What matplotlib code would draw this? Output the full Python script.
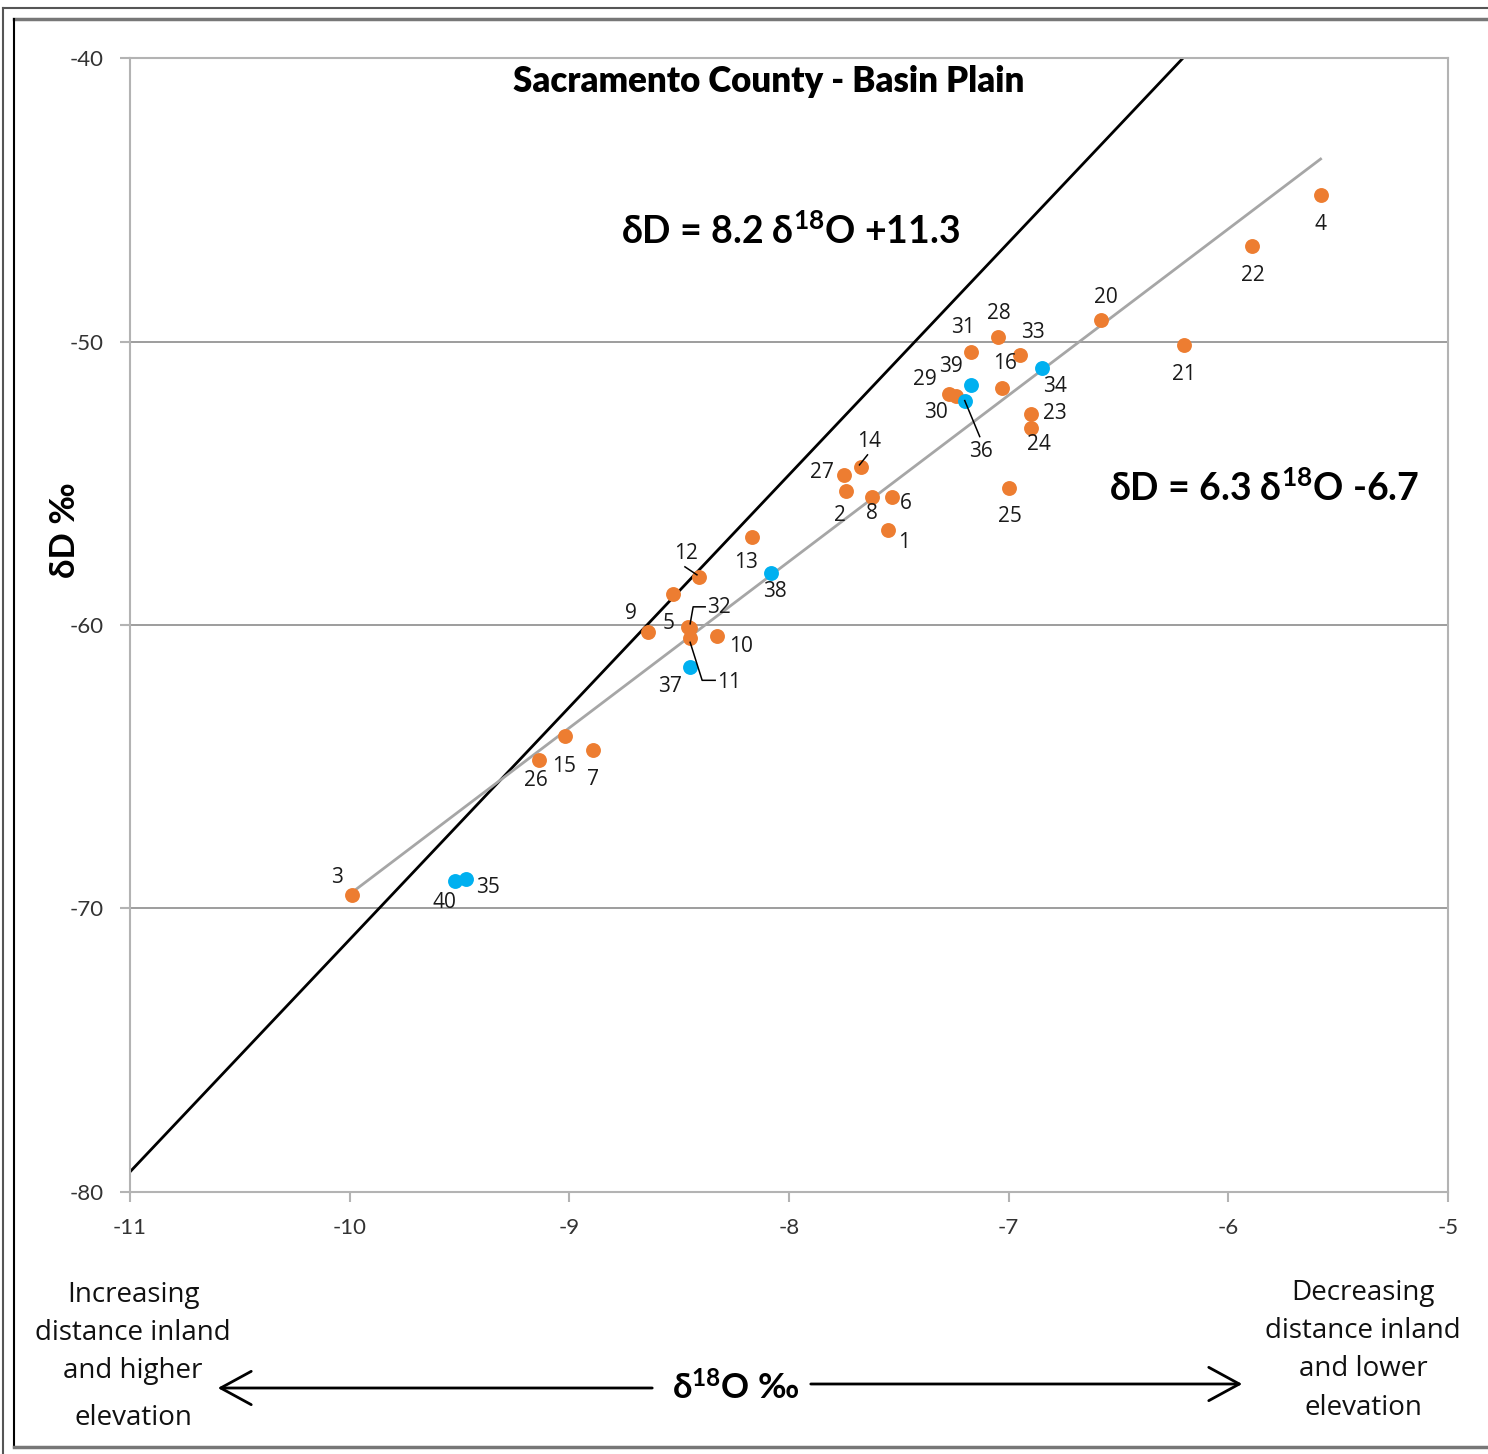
import matplotlib
matplotlib.use("Agg")
import matplotlib.pyplot as plt
from matplotlib.lines import Line2D
from matplotlib.transforms import IdentityTransform

plt.rcParams['font.family'] = ['Lato', 'DejaVu Sans']
plt.rcParams['mathtext.fontset'] = 'custom'
plt.rcParams['mathtext.rm'] = 'Lato:bold'
plt.rcParams['mathtext.bf'] = 'Lato:bold'
plt.rcParams['mathtext.default'] = 'rm'
plt.rcParams['axes.unicode_minus'] = False

# sample points (delta 18O, delta D)
ids = ['4', '22', '20', '21', '28', '31', '33', '16', '29', '30', '23', '24',
       '14', '27', '2', '8', '6', '25', '1', '13', '12', '', '9', '5', '32',
       '11', '10', '15', '26', '7', '3']
d18o = [-5.58, -5.89, -6.58, -6.20, -7.05, -7.17, -6.95, -7.03, -7.27, -7.24,
        -6.90, -6.90, -7.67, -7.75, -7.74, -7.62, -7.53, -7.00, -7.55, -8.17,
        -8.41, -8.53, -8.64, -8.46, -8.45, -8.45, -8.33, -9.02, -9.14, -8.89,
        -9.99]
dD = [-44.81, -46.64, -49.22, -50.11, -49.82, -50.35, -50.46, -51.63, -51.84,
      -51.91, -52.55, -53.03, -54.42, -54.71, -55.27, -55.47, -55.47, -55.15,
      -56.64, -56.91, -58.30, -58.89, -60.25, -60.08, -60.10, -60.47, -60.39,
      -63.92, -64.75, -64.42, -69.52]

# blue points
ids_b = ['34', '39', '36', '38', '37', '40', '35']
d18o_b = [-6.85, -7.17, -7.20, -8.08, -8.45, -9.52, -9.47]
dD_b = [-50.92, -51.52, -52.08, -58.15, -61.47, -69.05, -68.95]

# lines
gmwl_slope, gmwl_int = 8.2, 10.9
lmwl_slope, lmwl_int = 5.87, -10.8
lmwl_x = [-10.0, -5.58]

# label offsets in pixels (dx right, dy down)
offs = {'4': (0, 30), '22': (0, 29), '20': (5, -22), '21': (0, 30),
        '28': (1, -23), '31': (-8, -24), '33': (13, -22), '34': (13, 19),
        '39': (-20, -18), '16': (3, -24), '29': (-24, -14), '30': (-20, 17),
        '23': (24, 0), '24': (8, 17), '27': (-22, -3), '2': (-6, 25),
        '8': (-1, 17), '6': (14, 7), '25': (1, 29), '1': (16, 13),
        '13': (-6, 25), '38': (4, 19), '9': (-17, -19), '5': (-19, -4),
        '10': (24, 10), '37': (-20, 20), '15': (-1, 30), '26': (-3, 21),
        '7': (0, 29), '3': (-15, -17), '40': (-11, 21), '35': (22, 9),
        '36': (16, 51), '14': (8, -25), '12': (-13, -23), '32': (29, -20),
        '11': (39, 44)}
# leader lines as pixel offsets from the point
leaders = {'36': [(0, 0), (15, 36)], '14': [(-2, -2), (6, -12)],
           '12': [(-2, -2), (-14, -10)],
           '32': [(0, -4), (3, -21), (15, -21)],
           '11': [(0, 4), (12, 42), (25, 42)]}

fig = plt.figure(figsize=(14.88, 14.54), dpi=100)
ax = fig.add_axes([130 / 1488, 1 - 1191.7 / 1454, 1318 / 1488, 1133.4 / 1454])

ax.set_xlim(-11, -5)
ax.set_ylim(-80, -40)
ax.set_xticks(range(-11, -4))
ax.set_yticks(range(-80, -39, 10))
ax.grid(axis='y', color='#8c8c8c', lw=1.2)
ax.set_axisbelow(True)
for s in ax.spines.values():
    s.set_color('#b3b3b3')
    s.set_linewidth(1.5)
ax.tick_params(colors='#b3b3b3', labelcolor='#333333', labelsize=16,
               length=7, width=1.5, direction='out')
ax.tick_params(axis='x', pad=12)
ax.tick_params(axis='y', pad=12)

xs = [-11, -5]
ax.plot(xs, [gmwl_slope * x + gmwl_int for x in xs], color='black', lw=2, zorder=2)
ax.plot(lmwl_x, [lmwl_slope * x + lmwl_int for x in lmwl_x], color='#a6a6a6', lw=2, zorder=2)

ax.scatter(d18o, dD, s=115, color='#ed7d31', zorder=3, linewidths=0)
ax.scatter(d18o_b, dD_b, s=115, color='#00b0f0', zorder=3, linewidths=0)

lab = dict(ha='center', va='center', fontsize=15, color='#1a1a1a',
           family='Open Sans', zorder=4)
allx = dict(zip(ids + ids_b, d18o + d18o_b))
ally = dict(zip(ids + ids_b, dD + dD_b))
for k in allx:
    if k in offs:
        dx, dy = offs[k]
        ax.annotate(k, (allx[k], ally[k]), xytext=(dx, -dy),
                    textcoords='offset pixels', **lab)
    if k in leaders:
        px, py = ax.transData.transform((allx[k], ally[k]))
        fig.add_artist(Line2D([px + a for a, b in leaders[k]],
                              [py - b for a, b in leaders[k]],
                              transform=IdentityTransform(), color='black',
                              lw=1.1, zorder=2.5))

fig.text(769 / 1488, 1 - 81 / 1454, 'Sacramento County - Basin Plain', ha='center',
         va='center', fontsize=25, fontweight='heavy', color='black')
fig.text(791 / 1488, 1 - 231 / 1454, r'δD = 8.2 δ$^{18}$O +11.3', ha='center',
         va='center', fontsize=27, fontweight='bold')
fig.text(1264 / 1488, 1 - 488 / 1454, r'δD = 6.3 δ$^{18}$O -6.7', ha='center',
         va='center', fontsize=27, fontweight='bold')
fig.text(65 / 1488, 1 - 530 / 1454, 'δD ‰', rotation=90, ha='center', va='center',
         fontsize=25, fontweight='bold')
fig.text(736 / 1488, 1 - 1388 / 1454, r'δ$^{18}$O ‰', ha='center', va='center',
         fontsize=25, fontweight='bold')

side = dict(ha='center', va='center', fontsize=20, family='Open Sans', color='#111111')
fig.text(133 / 1488, 1 - 1295 / 1454, 'Increasing', **side)
fig.text(133 / 1488, 1 - 1333 / 1454, 'distance inland', **side)
fig.text(133 / 1488, 1 - 1371 / 1454, 'and higher', **side)
fig.text(133 / 1488, 1 - 1418 / 1454, 'elevation', **side)
fig.text(1363 / 1488, 1 - 1293 / 1454, 'Decreasing', **side)
fig.text(1363 / 1488, 1 - 1331 / 1454, 'distance inland', **side)
fig.text(1363 / 1488, 1 - 1369 / 1454, 'and lower', **side)
fig.text(1363 / 1488, 1 - 1408 / 1454, 'elevation', **side)

fig.patches.append(matplotlib.patches.FancyArrowPatch(
    (655 / 1488, 1 - 1388 / 1454), (215 / 1488, 1 - 1388 / 1454),
    transform=fig.transFigure, arrowstyle='->,head_length=11,head_width=6',
    color='black', lw=2, mutation_scale=2))
fig.patches.append(matplotlib.patches.FancyArrowPatch(
    (808 / 1488, 1 - 1384 / 1454), (1245 / 1488, 1 - 1384 / 1454),
    transform=fig.transFigure, arrowstyle='->,head_length=11,head_width=6',
    color='black', lw=2, mutation_scale=2))

# frame borders
def fl(x, y, c, w):
    fig.add_artist(Line2D([v / 1488 for v in x], [1 - v / 1454 for v in y],
                          transform=fig.transFigure, color=c, lw=w))
fl([3, 1490], [8, 8], '#555555', 1.5)
fl([3, 3], [8, 1460], '#555555', 1.5)
fl([14, 1490], [19, 19], '#777777', 2.5)
fl([14, 14], [19, 1447], 'black', 1.5)
fl([14, 1490], [1447, 1447], '#777777', 2.5)

fig.savefig('out.png', dpi=100)
